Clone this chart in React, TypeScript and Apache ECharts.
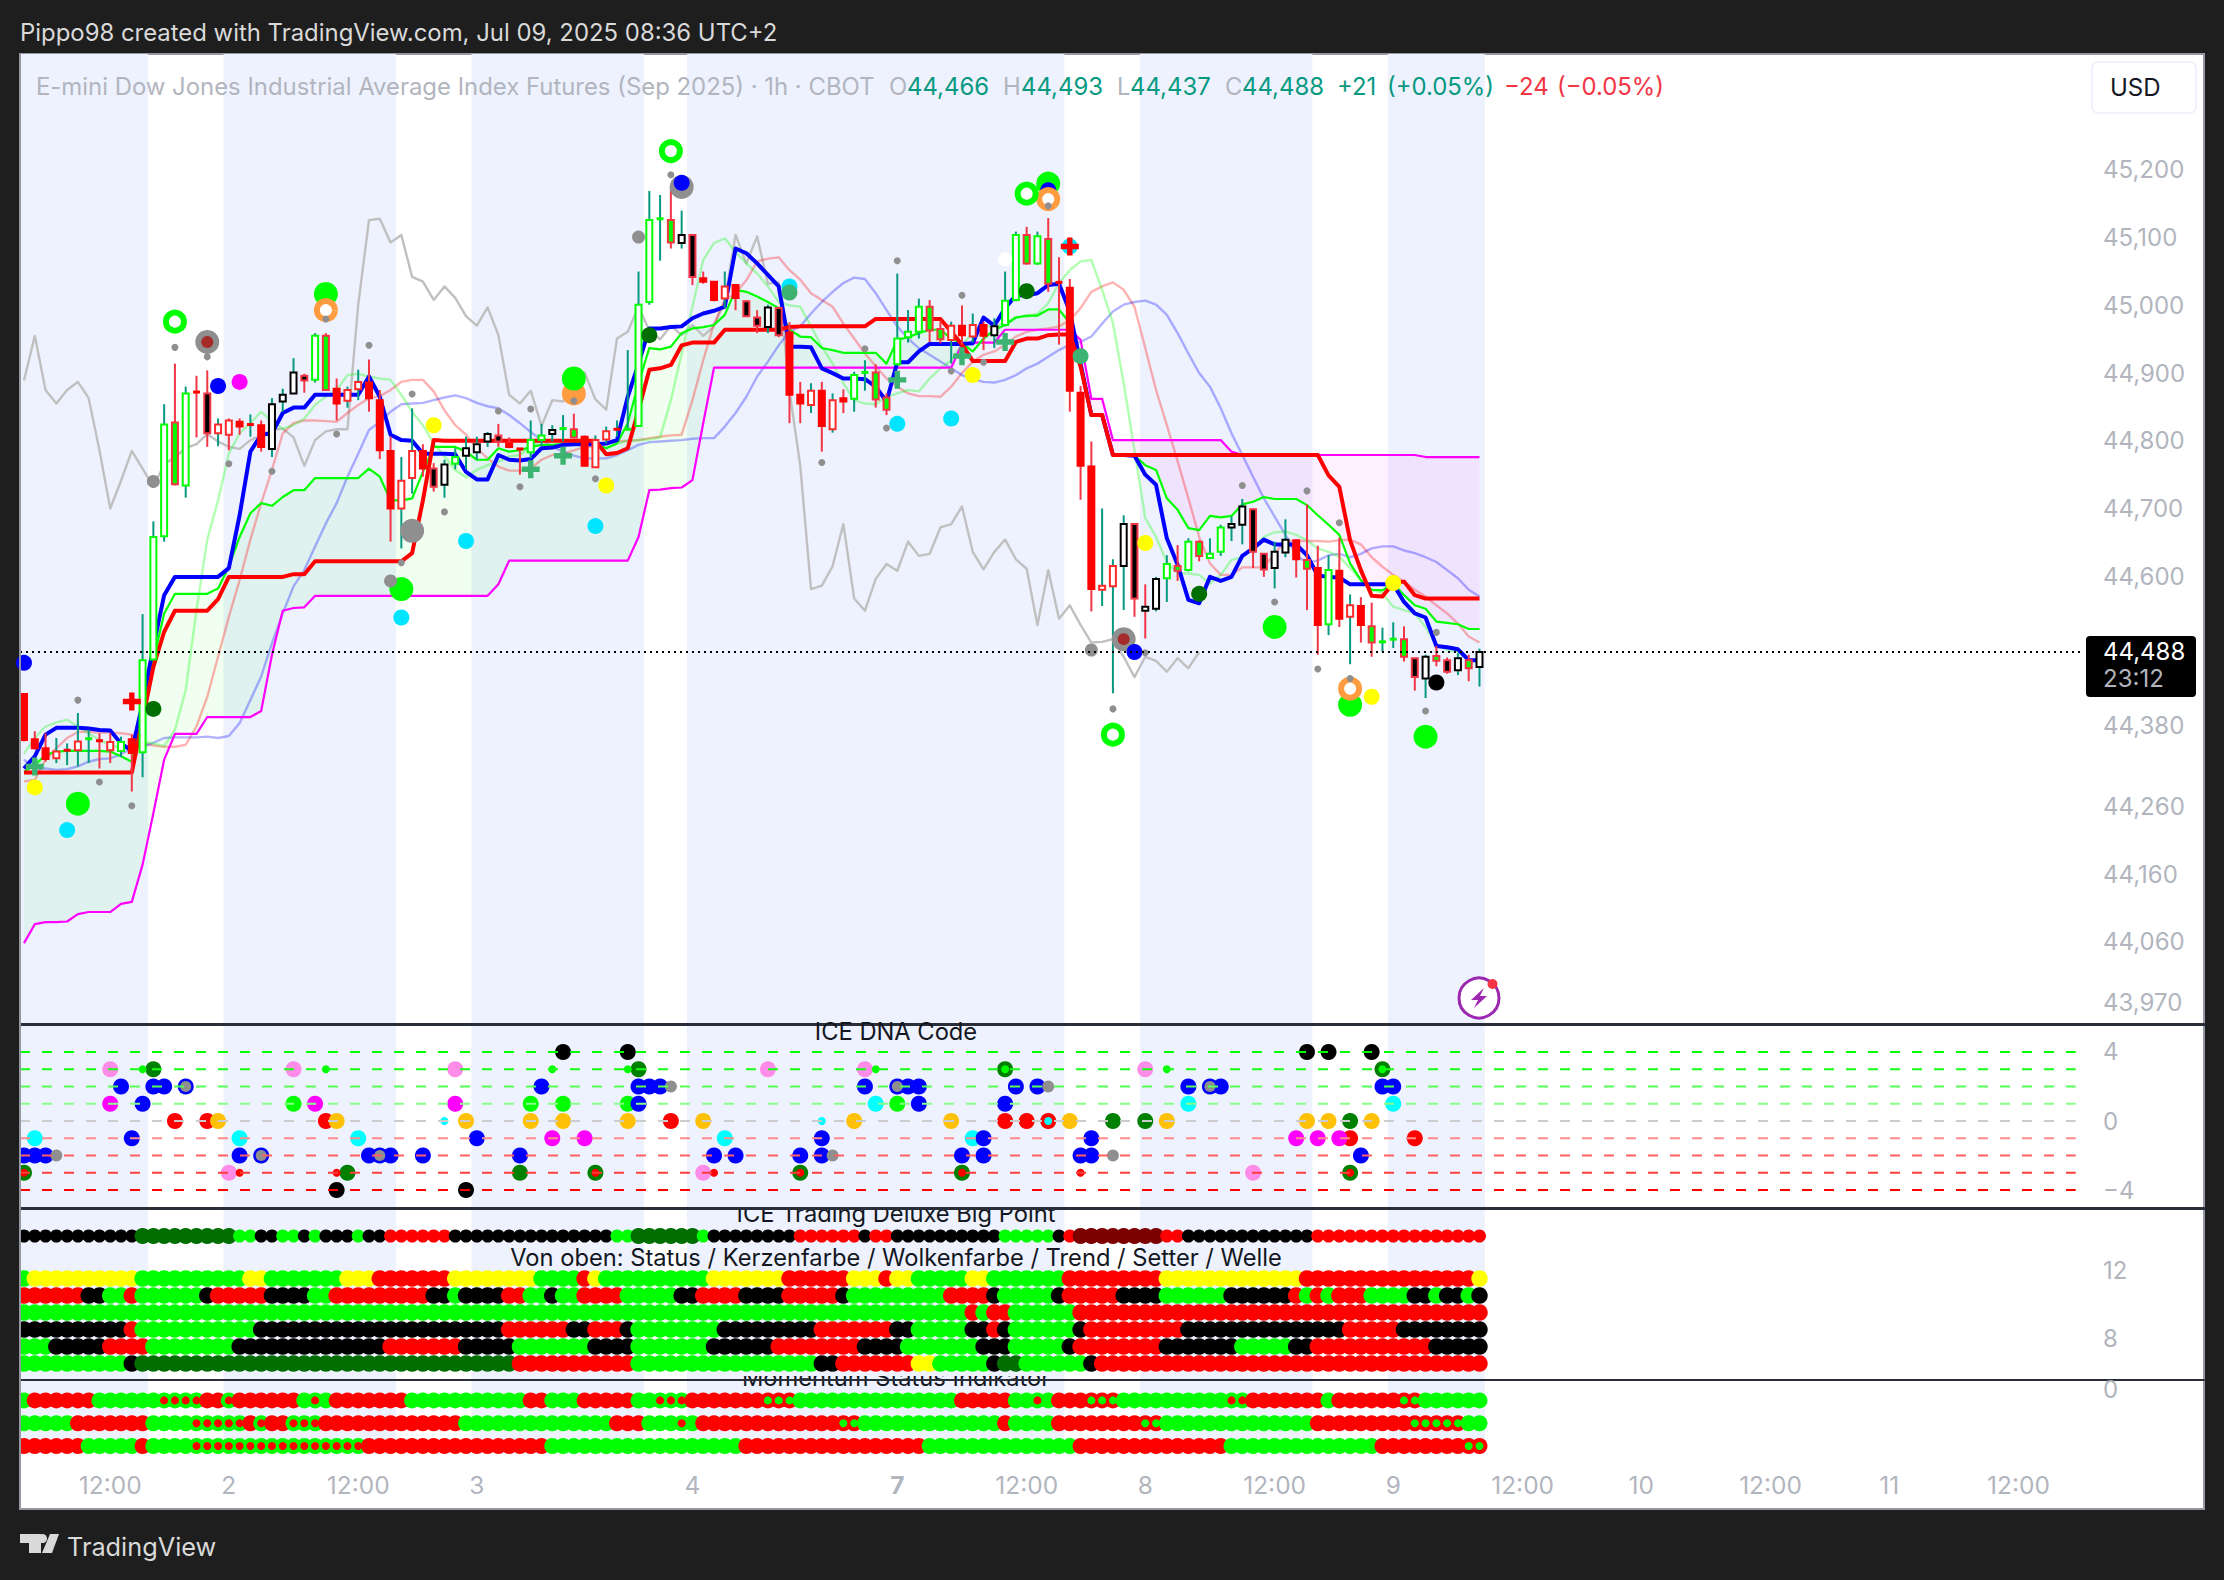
import React, { useEffect, useRef } from "react";
import * as echarts from "echarts";

const FONT = "Inter, Roboto, sans-serif";
const BG = "#1e1e1e";
const BAND = "#eef2fe";
const LABEL = "#b2b5be";

const bandRanges = [[-0.37, 11.5], [18.5, 34.5], [41.5, 57.5], [61.5, 96.5], [103.5, 119.5], [126.5, 135.5]];
const timeTicks = [8, 19, 31, 42, 62, 81, 93, 104, 116, 127, 139, 150, 162, 173, 185];
const timeLabels = ["12:00", "2", "12:00", "3", "4", "{b|7}", "12:00", "8", "12:00", "9", "12:00", "10", "12:00", "11", "12:00"];
const priceTicks = [45200, 45100, 45000, 44900, 44800, 44700, 44600, 44380, 44260, 44160, 44060, 43970];

// [body top, body bottom, high, low]
const candleRows = [
[44426,44358,44426,44356],[44359,44346,44371,44344],[44346,44330,44368,44326],[44341,44331,44361,44324],[44343,44343,44353,44321],
[44356,44343,44398,44319],[44360,44360,44373,44324],[44357,44357,44368,44316],[44355,44343,44368,44324],[44355,44342,44363,44333],
[44359,44339,44366,44282],[44476,44340,44544,44303],[44658,44477,44681,44477],[44824,44659,44854,44651],[44827,44736,44914,44734],
[44870,44734,44880,44716],[44872,44872,44896,44805],[44870,44811,44904,44791],[44824,44811,44833,44792],[44830,44809,44833,44786],
[44828,44821,44833,44809],[44824,44824,44839,44806],[44823,44791,44830,44784],[44854,44788,44863,44776],[44868,44858,44877,44843],
[44901,44870,44922,44869],[44896,44889,44899,44871],[44955,44890,44959,44886],[44955,44875,44959,44874],[44877,44855,44892,44830],
[44875,44859,44880,44849],[44887,44876,44905,44860],[44886,44863,44920,44843],[44860,44786,44875,44773],[44785,44700,44806,44651],
[44741,44700,44776,44641],[44785,44745,44848,44722],[44785,44759,44795,44747],[44759,44732,44767,44725],[44765,44735,44772,44716],
[44776,44766,44789,44758],[44789,44778,44806,44758],[44795,44783,44806,44772],[44810,44799,44813,44791],[44808,44799,44825,44791],
[44796,44791,44805,44789],[44788,44788,44788,44750],[44801,44783,44830,44774],[44808,44801,44825,44792],[44816,44810,44823,44799],
[44818,44818,44838,44799],[44817,44805,44840,44804],[44806,44763,44808,44762],[44801,44761,44808,44761],[44814,44802,44821,44796],
[44817,44817,44830,44806],[44817,44817,44934,44816],[45001,44822,45050,44822],[45126,45005,45169,45001],[45128,45128,45163,45066],
[45126,45093,45175,45084],[45104,45092,45140,45084],[45104,45042,45104,45030],[45040,45035,45050,45032],[45035,45008,45035,45006],
[45028,45010,45050,44996],[45030,45011,45030,44993],[45006,44984,45008,44983],[44982,44970,44993,44959],[44997,44968,45001,44959],
[44996,44956,44998,44953],[44960,44868,44975,44826],[44868,44855,44887,44826],[44874,44853,44885,44841],[44874,44822,44887,44784],
[44860,44817,44870,44812],[44863,44858,44876,44841],[44897,44862,44902,44843],[44901,44901,44919,44874],[44901,44861,44913,44849],
[44864,44846,44870,44838],[44951,44913,45047,44911],[44961,44953,44993,44945],[44998,44961,45010,44951],[44998,44963,45008,44946],
[44965,44950,44978,44944],[44970,44949,44976,44914],[44970,44956,45000,44942],[44971,44954,44988,44945],[44971,44955,44976,44934],
[44969,44956,44981,44937],[45007,44971,45050,44969],[45104,45008,45109,45006],[45104,45062,45116,45060],[45102,45062,45109,45060],
[45098,45032,45129,45020],[45034,45034,45071,44942],[45026,44874,45039,44843],[44871,44763,44881,44713],[44762,44581,44799,44548],
[44586,44580,44700,44556],[44615,44585,44625,44427],[44677,44615,44690,44550],[44677,44567,44678,44540],[44555,44549,44588,44508],
[44596,44552,44599,44548],[44618,44597,44631,44562],[44615,44608,44646,44593],[44651,44609,44656,44607],[44651,44630,44653,44622],
[44633,44627,44656,44626],[44672,44636,44676,44630],[44677,44672,44688,44652],[44703,44676,44714,44647],[44699,44636,44700,44612],
[44633,44610,44634,44599],[44636,44612,44651,44582],[44654,44635,44684,44628],[44653,44625,44654,44598],[44624,44611,44706,44550],
[44612,44528,44645,44484],[44609,44529,44631,44513],[44608,44537,44657,44525],[44557,44540,44573,44470],[44556,44528,44569,44502],
[44526,44502,44561,44481],[44503,44503,44524,44488],[44507,44507,44532,44494],[44507,44481,44526,44474],[44479,44451,44479,44431],
[44481,44449,44484,44420],[44482,44475,44497,44467],[44476,44459,44480,44456],[44479,44461,44486,44454],[44476,44464,44484,44445],
[44488,44466,44493,44437],
];
const bodyStyles = "RRRWRWGRWG" + "RGGGHGRBWW" + "RRRKKKBGHR" + "WWRRRWWRBK" + "GKKKBRRGGK" + "GHRWWRGGGG" + "HKBRRWRBBK" + "BRRWRWRGGH" + "HGGGHHWRWR" + "KGGHGHRRRR" + "WWKBKKGHGH" + "GGKKBBKKRH" + "RGRWRHGGHB" + "KHBKHK";
const wickStyles = "rrrttttrrt" + "rtttrtrrtr" + "rtrtttrtrr" + "ttrrrttrrt" + "ttttrrrttt" + "trrttttttt" + "rtrrrtrrrt" + "rrrtrtrttr" + "rtttrrtrtr" + "tttrtrrrrr" + "tttrrttrtr" + "ttttrrttrr" + "rtrtrrttrr" + "trrtrt";

const conversionLine = [
44316,44334,44366,44376,44376,44376,44375,44373,44372,44353,
44342,44412,44496,44572,44599,44599,44599,44599,44599,44612,
44690,44784,44809,44811,44841,44849,44849,44868,44868,44868,
44868,44868,44895,44865,44809,44801,44800,44781,44781,44781,
44780,44754,44743,44743,44779,44772,44771,44773,44789,44790,
44794,44795,44795,44795,44796,44801,44865,44914,44966,44966,
44968,44969,44981,44988,44992,44998,45084,45077,45062,45045,
45028,44939,44939,44938,44907,44900,44892,44892,44891,44880,
44858,44916,44916,44932,44943,44943,44943,44943,44944,44982,
44970,44996,45015,45015,45018,45030,45032,44991,44914,44838,
44838,44779,44779,44778,44750,44735,44656,44617,44565,44560,
44599,44593,44599,44630,44641,44654,44647,44647,44647,44631,
44601,44599,44598,44588,44588,44588,44588,44588,44562,44545,
44539,44497,44495,44492,44476,44476];
const baseLine = [
44310,44310,44310,44310,44310,44310,44310,44310,44310,44310,
44310,44388,44466,44518,44549,44549,44549,44549,44566,44599,
44599,44599,44599,44599,44599,44603,44603,44622,44622,44622,
44622,44622,44622,44622,44622,44622,44634,44712,44801,44800,
44800,44800,44800,44800,44800,44800,44800,44800,44800,44800,
44800,44800,44800,44800,44780,44782,44789,44845,44905,44907,
44912,44941,44945,44945,44945,44964,44964,44964,44964,44964,
44964,44968,44969,44969,44969,44969,44969,44969,44969,44980,
44980,44980,44980,44980,44980,44980,44961,44942,44918,44918,
44918,44918,44946,44951,44951,44956,44957,44957,44910,44838,
44838,44779,44779,44779,44779,44779,44779,44779,44779,44779,
44779,44779,44779,44779,44779,44779,44779,44779,44779,44779,
44779,44749,44732,44653,44609,44571,44570,44590,44592,44572,
44567,44567,44567,44567,44567,44567];
const leadA = [
44311,44321,44336,44341,44342,44342,44342,44342,44341,44334,
44326,44393,44476,44545,44574,44574,44574,44574,44582,44614,
44658,44693,44708,44704,44717,44727,44727,44745,44745,44745,
44745,44745,44759,44747,44712,44712,44715,44754,44791,44791,
44791,44784,44772,44772,44789,44784,44786,44791,44794,44794,
44795,44796,44797,44796,44789,44796,44826,44885,44937,44935,
44939,44959,44966,44968,44971,44986,45023,45020,45013,45005,
44996,44964,44954,44953,44937,44934,44930,44930,44930,44930,
44914,44949,44953,44959,44964,44964,44951,44944,44932,44951,
44964,44971,44982,44985,44985,44994,44994,44974,44914,44838,
44838,44779,44779,44778,44764,44757,44715,44698,44671,44668,
44689,44687,44689,44706,44710,44717,44714,44714,44714,44705,
44690,44676,44661,44619,44594,44580,44579,44590,44572,44557,
44552,44533,44531,44529,44522,44522];
const leadB = [
44058,44086,44089,44089,44090,44101,44104,44104,44104,44116,
44119,44174,44250,44329,44367,44367,44367,44392,44392,44392,
44392,44392,44401,44484,44549,44553,44554,44571,44571,44571,
44571,44571,44571,44571,44571,44571,44571,44571,44571,44571,
44571,44571,44571,44571,44588,44623,44623,44623,44623,44623,
44623,44623,44623,44623,44623,44623,44623,44658,44727,44728,
44730,44731,44742,44826,44908,44908,44908,44908,44908,44908,
44908,44908,44908,44908,44908,44908,44908,44908,44908,44908,
44908,44908,44908,44908,44908,44908,44908,44943,44945,44945,
44945,44964,44964,44964,44964,44964,44964,44964,44949,44862,
44862,44801,44801,44801,44801,44801,44801,44801,44801,44801,
44801,44801,44784,44779,44779,44779,44779,44779,44779,44779,
44779,44779,44779,44779,44779,44779,44779,44779,44779,44779,
44776,44776,44776,44776,44776,44776];
const paleGreen = [
44338,44361,44378,44384,44388,44378,44368,44358,44351,44346,
44350,44356,44353,44349,44373,44432,44550,44654,44712,44781,
44811,44826,44843,44828,44818,44823,44833,44853,44865,44875,
44897,44899,44895,44892,44890,44868,44843,44823,44796,44777,
44757,44746,44757,44764,44769,44777,44779,44791,44801,44799,
44799,44799,44799,44794,44789,44796,44800,44801,44802,44805,
44860,44929,44998,45067,45092,45099,45079,45062,45047,45028,
45005,45000,44998,44969,44939,44914,44885,44860,44855,44854,
44865,44870,44875,44873,44892,44907,44919,44942,44959,44969,
44969,44974,44983,44983,44988,45003,45033,45052,45065,45067,
45023,44974,44885,44786,44686,44658,44621,44604,44604,44602,
44589,44602,44624,44628,44641,44658,44665,44666,44661,44653,
44641,44636,44629,44612,44594,44580,44575,44555,44550,44545,
44525,44498,44491,44488,44476,44476];
const paleRed = [
44297,44299,44329,44346,44361,44370,44370,44369,44369,44368,
44366,44353,44350,44348,44348,44351,44378,44422,44481,44540,
44594,44654,44708,44757,44811,44826,44830,44830,44829,44828,
44841,44853,44863,44866,44875,44887,44890,44890,44873,44845,
44823,44809,44789,44774,44762,44756,44756,44759,44772,44779,
44781,44786,44791,44791,44796,44799,44800,44801,44804,44806,
44808,44809,44860,44919,44973,45008,45018,45037,45065,45069,
45071,45052,45038,45018,45008,44998,44973,44951,44929,44910,
44892,44880,44870,44866,44866,44865,44880,44900,44917,44927,
44932,44942,44954,44961,44964,44966,44969,44978,44996,45020,
45028,45034,45023,44998,44937,44875,44823,44770,44715,44658,
44619,44602,44602,44613,44613,44613,44634,44651,44652,44652,
44652,44651,44653,44654,44647,44628,44614,44602,44592,44580,
44570,44557,44545,44530,44511,44502];
const paleBlue = [
44329,44316,44316,44314,44315,44319,44326,44330,44331,44337,
44346,44348,44354,44361,44362,44362,44362,44363,44361,44364,
44383,44417,44452,44501,44545,44585,44609,44644,44678,44708,
44747,44781,44816,44828,44843,44854,44855,44856,44860,44864,
44867,44863,44856,44851,44848,44838,44826,44813,44801,44791,
44784,44778,44774,44774,44774,44779,44786,44794,44798,44799,
44800,44801,44803,44804,44804,44821,44841,44865,44895,44917,
44941,44961,44969,44988,45005,45020,45033,45041,45039,45018,
44993,44969,44951,44937,44927,44917,44907,44897,44891,44887,
44886,44890,44897,44907,44914,44924,44934,44942,44946,44954,
44973,44991,45001,45005,45007,45001,44986,44959,44929,44900,
44880,44848,44811,44779,44747,44715,44688,44661,44631,44620,
44623,44631,44633,44628,44633,44641,44644,44644,44638,44634,
44628,44621,44609,44597,44580,44570];
const laggingLine = [
44889,44955,44875,44855,44875,44887,44863,44786,44700,44741,
44785,44759,44732,44765,44776,44789,44795,44810,44799,44791,
44788,44801,44808,44816,44818,44805,44763,44801,44814,44817,
44817,45001,45126,45128,45093,45104,45042,45035,45008,45028,
45011,44984,44970,44997,44956,44868,44855,44874,44822,44860,
44858,44897,44901,44861,44846,44951,44961,44998,44963,44950,
44970,44956,44971,44955,44969,45007,45104,45062,45102,45032,
45034,44874,44763,44581,44586,44615,44677,44567,44549,44596,
44618,44608,44651,44630,44633,44672,44677,44703,44636,44610,
44636,44654,44625,44611,44528,44609,44537,44557,44528,44502,
44503,44507,44481,44451,44481,44475,44459,44479,44464,44488];

const bigGreen = [[28,45017],[51,44892],[5,44264],[35,44581],[95,45180],[116,44525],[123,44410],[130,44363]];
const greenRings = [[14,44976],[60,45228],[93,45165],[101,44366]];
const orangeRings = [[28,44993],[95,45157],[123,44434]];
const orangeDiscs = [[51,44870]];
const blueDots = [[18,44881],[61,45181],[0,44472],[95,45170],[103,44488]];
const magentaDots = [[20,44887]];
const greyLarge = [[17,44946],[61,45175],[36,44667],[102,44507]];
const greyMedium = [[12,44740],[57,45101],[34,44593],[99,44491]];
const maroonDots = [[17,44946],[102,44507]];
const greySmall = [[14,44938],[17,44924],[28,44980],[32,44941],[36,44869],[29,44810],[19,44766],[23,44755],[39,44695],[44,44844],[47,44847],[51,44859],[53,44744],[46,44732],[60,45193],[5,44417],[7,44296],[10,44261],[35,44620],[81,45066],[78,44936],[74,44768],[80,44819],[87,45015],[86,44903],[89,44916],[95,45147],[113,44734],[119,44726],[122,44679],[116,44562],[104,44487],[120,44463],[123,44449],[101,44404],[130,44401],[131,44517]];
const cyanDots = [[4,44225],[35,44539],[41,44652],[53,44674],[81,44825],[86,44833],[97,45087],[71,45028]];
const yellowDots = [[1,44288],[38,44823],[54,44734],[88,44897],[104,44649],[125,44422],[127,44590]];
const darkGreenDots = [[12,44404],[58,44956],[93,45021],[109,44574]];
const seaGreenDots = [[71,45019],[98,44925]];
const seaGreenPlus = [[1,44319],[47,44758],[50,44778],[81,44890],[87,44925],[91,44946]];
const redPlus = [[10,44415],[97,45087]];
const blackDots = [[131,44443]];
const whiteDots = [[91,45068]];

const dnaLevels = [4, 3, 2, 1, 0, -1, -2, -3, -4];
const dnaLevelColors = ["#00ff00", "#16ff16", "#55ff55", "#88ff88", "#cccccc", "#ff8c8c", "#ff6060", "#ff3c3c", "#ff0000"];
const dnaBlack = [[50,4],[56,4],[119,4],[121,4],[125,4],[29,-4],[41,-4]];
const dnaPink = [[8,3],[25,3],[40,3],[69,3],[78,3],[104,3],[19,-3],[63,-3],[114,-3]];
const dnaDark = [[12,3],[57,3],[91,3],[126,3],[0,-3],[30,-3],[46,-3],[53,-3],[72,-3],[87,-3],[123,-3],[101,0],[104,0],[123,0]];
const dnaBlue = [[9,2],[12,2],[13,2],[15,2],[48,2],[57,2],[58,2],[59,2],[78,2],[81,2],[82,2],[83,2],[92,2],[94,2],[108,2],[110,2],[111,2],[126,2],[127,2],[11,1],[57,1],[83,1],[91,1],[10,-1],[42,-1],[74,-1],[89,-1],[99,-1],[0,-2],[1,-2],[2,-2],[20,-2],[22,-2],[32,-2],[33,-2],[34,-2],[37,-2],[46,-2],[64,-2],[66,-2],[72,-2],[74,-2],[87,-2],[89,-2],[98,-2],[99,-2],[124,-2]];
const dnaGrey = [[60,2],[95,2],[3,-2],[75,-2],[101,-2]];
const dnaGreyInner = [[15,2],[81,2],[110,2],[22,-2],[33,-2]];
const dnaMagenta = [[8,1],[27,1],[40,1],[49,-1],[52,-1],[118,-1],[120,-1],[122,-1]];
const dnaGreen = [[25,1],[47,1],[50,1],[56,1],[81,1]];
const dnaSmallGreen = [[11,3],[28,3],[49,3],[56,3],[79,3],[106,3],[91,3],[126,3]];
const dnaRed = [[14,0],[17,0],[28,0],[60,0],[91,0],[93,0],[95,0],[123,-1],[129,-1]];
const dnaSmallRed = [[0,-3],[20,-3],[29,-3],[53,-3],[64,-3],[72,-3],[87,-3],[98,-3],[123,-3]];
const dnaAmber = [[18,0],[29,0],[41,0],[47,0],[50,0],[56,0],[63,0],[77,0],[86,0],[97,0],[106,0],[119,0],[121,0],[125,0]];
const dnaCyan = [[1,-1],[20,-1],[31,-1],[65,-1],[88,-1],[79,1],[108,1],[127,1]];
const dnaSmallCyan = [[39,0],[74,0],[95,0]];

const bigPointRuns = "k11 d9 g2 k2 g2 k1 g1 k3 g1 k2 r6 k15 g2 d6 g1 k8 r6 k1 r2 k10 g5 k1 r1 m8 r2 k12 r16";
const statusRuns = "g1 y10 g10 y2 g7 y3 r7 y8 g4 r1 y1 g10 y7 r6 y3 r1 y2 g5 y2 g7 r9 y13 r16 y1";
const candleColorRuns = "r6 k2 g2 r1 g6 k1 r5 k4 g2 r9 k2 g1 k4 r2 g2 k1 g2 r4 g5 k2 r4 k4 r5 k1 g9 r4 k1 g5 k1 r5 k4 g6 k6 r1 g1 r1 g1 r3 g4 k2 g1 k2 g1 k1";
const cloudColorRuns = "g88 r1 g1 r2 g6 r38";
const trendRuns = "k10 r1 g11 k23 r6 k2 r3 k1 g8 k9 r7 k2 g5 k2 r1 k1 g6 k1 r9 k15 r5 k8";
const setterRuns = "g3 k5 r4 g8 k14 r7 k5 g7 k4 g7 k6 r8 k4 g7 k3 g5 k1 r8 k7 g5 k2 r11 k5";
const waveRuns = "g10 k1 d35 r11 g17 k2 r7 y2 g5 k1 d2 g6 k1 r36";
const momentumA = "g1 r6 g6 s4 r2 s1 r6 g1 s1 g1 r7 g11 r2 g3 r5 g2 s3 r7 t3 g15 r5 g2 s1 g1 r3 t3 g10 s2 r7 g1 r6 t2 g6";
const momentumB = "g5 r7 g4 s5 r1 s1 r2 s3 r13 g14 r3 g3 s1 g1 r13 t2 g13 r1 g4 r8 t2 g14 r9 t5 g2";
const momentumC = "r6 g5 r1 g4 s16 r17 g18 r17 g14 r14 g14 r8 t2";

const statusRows = [[statusRuns, 11.5], [candleColorRuns, 10.5], [cloudColorRuns, 9.5], [trendRuns, 8.5], [setterRuns, 7.5], [waveRuns, 6.5]];
const momentumRows = [[momentumA, -0.5], [momentumB, -1.5], [momentumC, -2.5]];
const codeColors = { g: "#00ff00", r: "#ff0000", k: "#000000", y: "#ffff00", d: "#006e00", m: "#7d0000", s: "#00ff00", t: "#ff0000" };

const expandRuns = (runs) => {
  const out = [];
  runs.split(" ").forEach((r) => { const n = +r.slice(1); for (let k = 0; k < n; k++) out.push(r[0]); });
  return out;
};

const X_MIN = -0.37, X_MAX = 202.2;
const paneFrames = [
  { top: 54, height: 970, min: 43938.6, max: 45371.3 },
  { top: 1024, height: 184, min: -5.04, max: 5.62 },
  { top: 1208, height: 172, min: 5.53, max: 15.647 },
  { top: 1380, height: 74, min: -2.85, max: 0.395 },
];
const paneBorder = [3, 3, 2, 0];
const PLUS = "path://M35 0H65V35H100V65H65V100H35V65H0V35H35Z";

const zipLine = (arr) => arr.map((v, i) => [i, v]);

function App() {
  const ref = useRef(null);
  useEffect(() => {
    const chart = echarts.init(ref.current, null, { renderer: "svg", width: 2224, height: 1580 });

    const bandSeries = (g) => ({
      type: "custom", xAxisIndex: g, yAxisIndex: g, z: 0, silent: true, clip: true, data: bandRanges,
      encode: { x: [0, 1] },
      renderItem: (params, api) => {
        const a = api.coord([api.value(0), paneFrames[g].min])[0];
        const b = api.coord([api.value(1), paneFrames[g].min])[0];
        const c = params.coordSys;
        return { type: "rect", shape: { x: a, y: c.y, width: b - a, height: c.height }, style: { fill: BAND } };
      },
    });

    const line = (data, color, width, opacity = 1, extra = {}) => ({
      type: "line", xAxisIndex: 0, yAxisIndex: 0, z: 1, data, showSymbol: false, symbol: "none", silent: true,
      lineStyle: { color, width, opacity, join: "round" }, ...extra,
    });

    const dots = (data, color, size, g = 0, extra = {}) => ({
      type: "scatter", xAxisIndex: g, yAxisIndex: g, data, symbolSize: size, silent: true, clip: true,
      itemStyle: { color, opacity: 1 }, ...extra,
    });

    const ring = (data, color) => dots(data, "#ffffff", 18, 0, { itemStyle: { color: "#ffffff", borderColor: color, borderWidth: 6, opacity: 1 } });

    const cloudRuns = [];
    let start = 0;
    for (let i = 1; i <= leadA.length; i++) {
      if (i === leadA.length || (leadA[i] >= leadB[i]) !== (leadA[start] >= leadB[start])) {
        cloudRuns.push([start, Math.min(i, leadA.length - 1)]);
        start = i;
      }
    }
    const cloud = {
      type: "custom", xAxisIndex: 0, yAxisIndex: 0, z: 0.5, silent: true, clip: true, data: cloudRuns, encode: { x: [0, 1] },
      renderItem: (_p, api) => {
        const a = api.value(0), b = api.value(1);
        const pts = [];
        for (let i = a; i <= b; i++) pts.push(api.coord([i, leadA[i]]));
        for (let i = b; i >= a; i--) pts.push(api.coord([i, leadB[i]]));
        const up = leadA[a] >= leadB[a];
        return { type: "polygon", shape: { points: pts }, style: { fill: up ? "rgba(0,255,0,0.06)" : "rgba(255,0,255,0.06)" } };
      },
    };

    const bodyLook = {
      R: ["#ff0000", "#ff0000"], W: ["#ffffff", "#ff2a2a"], G: ["#ffffff", "#00ff00"],
      K: ["#ffffff", "#000000"], B: ["#000000", "#f23645"], H: ["#00ff00", "#f23645"],
    };
    const candles = {
      type: "custom", xAxisIndex: 0, yAxisIndex: 0, silent: true, clip: true,
      data: candleRows.map((r, i) => [i, ...r]), encode: { x: 0, y: [1, 2, 3, 4] },
      renderItem: (_p, api) => {
        const i = api.value(0);
        const top = api.coord([i, api.value(1)]);
        const bot = api.coord([i, api.value(2)]);
        const hi = api.coord([i, api.value(3)]);
        const lo = api.coord([i, api.value(4)]);
        const [fill, stroke] = bodyLook[bodyStyles[i]];
        const wick = wickStyles[i] === "t" ? "#089981" : "#f23645";
        const flat = Math.abs(bot[1] - top[1]) < 3;
        return {
          type: "group",
          children: [
            { type: "line", shape: { x1: hi[0], y1: hi[1], x2: lo[0], y2: lo[1] }, style: { stroke: wick, lineWidth: 2 } },
            flat
              ? { type: "rect", shape: { x: top[0] - 3.5, y: top[1] - 1.5, width: 7, height: 3 }, style: { fill: stroke } }
              : { type: "rect", shape: { x: top[0] - 3, y: top[1], width: 6, height: bot[1] - top[1] }, style: { fill, stroke, lineWidth: 2 } },
          ],
        };
      },
    };

    const codedDots = (runs, y, size) =>
      expandRuns(runs).map((c, i) => ({ value: [i, y], itemStyle: { color: codeColors[c], opacity: 1 }, symbolSize: size }));

    const smallDots = (runs, y, code) =>
      expandRuns(runs).map((c, i) => (c === code ? [i, y] : null)).filter(Boolean);

    const bigPoint = expandRuns(bigPointRuns).map((c, i) => ({
      value: [i, 14], itemStyle: { color: codeColors[c], opacity: 1 }, symbolSize: c === "d" || c === "m" ? 16 : 13,
    }));

    const series = [
      bandSeries(0), bandSeries(1), bandSeries(2), bandSeries(3),
      cloud,
      line(zipLine(laggingLine), "#c0c0c0", 2.4),
      line(zipLine(paleRed), "#ff0000", 2.4, 0.3),
      line(zipLine(paleBlue), "#0000ff", 2.4, 0.3),
      line(zipLine(paleGreen), "#00ff00", 2.4, 0.3),
      line(zipLine(leadB), "#ff00ff", 2.2),
      line(zipLine(leadA), "#00ff00", 2.2),
      line(zipLine(conversionLine), "#0000ff", 4),
      line(zipLine(baseLine), "#ff0000", 4),
      candles,
      dots(orangeDiscs, "#ff9c40", 24),
      dots(bigGreen, "#00ff00", 24),
      dots(greyLarge, "#8f8f8f", 24),
      dots(blueDots, "#0000ff", 16),
      ring(orangeRings, "#ff9c40"),
      ring(greenRings, "#00ff00"),
      dots(magentaDots, "#ff00ff", 16),
      dots(greyMedium, "#8f8f8f", 13),
      dots(maroonDots, "#a52a2a", 12),
      dots(cyanDots, "#00e5ff", 16),
      dots(yellowDots, "#ffff00", 16),
      dots(whiteDots, "#ffffff", 14),
      dots(darkGreenDots, "#006e00", 16),
      dots(seaGreenDots, "#3cb371", 16),
      dots(blackDots, "#000000", 16),
      dots(seaGreenPlus, "#3cb371", 18, 0, { symbol: PLUS }),
      dots(redPlus, "#ff0000", 18, 0, { symbol: PLUS }),
      dots(greySmall, "#8f8f8f", 7),
      line([[X_MIN, 44488], [190.7, 44488]], "#000000", 2, 1, { z: 3, lineStyle: { color: "#000000", width: 2, type: [2, 4] } }),

      dots(dnaBlack, "#000000", 16, 1),
      dots(dnaPink, "#ff8ce8", 16, 1),
      dots(dnaRed, "#ff0000", 16, 1),
      dots(dnaAmber, "#ffc107", 16, 1),
      dots(dnaDark, "#008000", 16, 1),
      dots(dnaMagenta, "#ff00ff", 16, 1),
      dots(dnaGreen, "#00ff00", 16, 1),
      dots(dnaCyan, "#00ffff", 16, 1),
      dots(dnaBlue, "#0000ff", 16, 1),
      dots(dnaGrey, "#8f8f8f", 12, 1),
      dots(dnaGreyInner, "#8f8f8f", 11, 1),
      dots(dnaSmallGreen, "#00ff00", 8, 1),
      dots(dnaSmallRed, "#ff0000", 8, 1),
      dots(dnaSmallCyan, "#00ffff", 8, 1),
      ...dnaLevels.map((lv, k) => ({
        type: "line", xAxisIndex: 1, yAxisIndex: 1, z: 3, data: [[X_MIN, lv], [190.3, lv]], symbol: "none", silent: true,
        lineStyle: { color: dnaLevelColors[k], width: 2, type: [10, 12] },
      })),

      { type: "scatter", xAxisIndex: 2, yAxisIndex: 2, data: bigPoint, silent: true, clip: true },
      ...statusRows.map(([runs, y]) => ({
        type: "scatter", xAxisIndex: 2, yAxisIndex: 2, data: codedDots(runs, y, 16.5), silent: true, clip: true,
      })),
      ...momentumRows.map(([runs, y]) => ({
        type: "scatter", xAxisIndex: 3, yAxisIndex: 3, data: codedDots(runs, y, 16), silent: true, clip: true,
      })),
      ...momentumRows.map(([runs, y]) => dots(smallDots(runs, y, "s"), "#ff0000", 8, 3)),
      ...momentumRows.map(([runs, y]) => dots(smallDots(runs, y, "t"), "#00ff00", 8, 3)),
    ];

    const grid = paneFrames.map((p) => ({ left: 20, right: 20, top: p.top, height: p.height, containLabel: false, outerBoundsMode: "none" }));
    const xAxis = paneFrames.map((_p, g) => ({
      type: "value", gridIndex: g, min: X_MIN, max: X_MAX, z: 4, silent: true,
      splitLine: { show: false }, axisTick: { show: false },
      axisLine: g < 3 ? { show: true, onZero: false, lineStyle: { color: "#2a2e39", width: paneBorder[g] } } : { show: false },
      axisLabel: g === 3
        ? {
            show: true, customValues: timeTicks, margin: 18, color: LABEL, fontSize: 24.5, fontFamily: FONT,
            formatter: (v) => timeLabels[timeTicks.indexOf(v)],
            rich: { b: { fontWeight: "bold", color: LABEL, fontSize: 24.5, fontFamily: FONT } },
          }
        : { show: false },
    }));
    const yLabel = (values, fmt) => ({
      show: true, inside: true, customValues: values, margin: 101, color: LABEL, fontSize: 24, fontFamily: FONT, formatter: fmt, align: "left",
    });
    const yAxis = paneFrames.map((p, g) => ({
      type: "value", gridIndex: g, position: "right", min: p.min, max: p.max, z: 4, silent: true,
      splitLine: { show: false }, axisTick: { show: false }, axisLine: { show: false },
      axisLabel:
        g === 0 ? yLabel(priceTicks, (v) => v.toLocaleString("en-US"))
        : g === 1 ? yLabel([4, 0, -4], (v) => String(v).replace("-", "\u2212"))
        : g === 2 ? yLabel([12, 8], (v) => String(v))
        : yLabel([0], (v) => String(v)),
    }));

    const txt = (text, x, y, fill, size = 23.9, extra = {}) => ({
      type: "text", z: 60, x, y, silent: true,
      style: { text, fill, fontSize: size, fontFamily: FONT, verticalAlign: "middle", ...extra },
    });
    const center = { align: "center" };
    const TITLE = 23.7;

    const graphic = [
      { type: "rect", z: -1, silent: true, shape: { x: 20, y: 54, width: 2184, height: 1455 }, style: { fill: "#ffffff", stroke: "#9598a1", lineWidth: 2 } },
      { type: "rect", z: 30, silent: true, shape: { x: 0, y: 1024, width: 19, height: 430 }, style: { fill: BG } },
      { type: "line", z: 31, silent: true, shape: { x1: 20, y1: 54, x2: 20, y2: 1509 }, style: { stroke: "#9598a1", lineWidth: 2 } },

      txt("Pippo98 created with TradingView.com, Jul 09, 2025 08:36 UTC+2", 20, 32, "#d9d9d9", 23.9),
      txt("E-mini Dow Jones Industrial Average Index Futures (Sep 2025) \u00b7 1h \u00b7 CBOT", 36, 86, LABEL),
      txt("O", 889, 86, LABEL), txt("44,466", 907, 86, "#089981"),
      txt("H", 1003, 86, LABEL), txt("44,493", 1021, 86, "#089981"),
      txt("L", 1117, 86, LABEL), txt("44,437", 1130, 86, "#089981"),
      txt("C", 1225, 86, LABEL), txt("44,488", 1242, 86, "#089981"),
      txt("+21", 1337, 86, "#089981"), txt("(+0.05%)", 1387, 86, "#089981"),
      txt("\u221224", 1504, 86, "#f23645"), txt("(\u22120.05%)", 1557, 86, "#f23645"),

      { type: "rect", z: 50, silent: true, shape: { x: 2092, y: 62, width: 104, height: 51, r: 6 }, style: { fill: "#ffffff", stroke: "#f0f3fa", lineWidth: 2 } },
      txt("USD", 2110, 87, "#131722", 24),

      { type: "rect", z: 50, silent: true, shape: { x: 2086, y: 636, width: 110, height: 61, r: 4 }, style: { fill: "#000000" } },
      txt("44,488", 2103, 651, "#ffffff", 24),
      txt("23:12", 2103, 678, "#b2b5be", 24),

      txt("ICE DNA Code", 896, 1031, "#131722", TITLE, center),
      { ...txt("ICE Trading Deluxe Big Point", 896, 1213, "#131722", TITLE, center), z: 1 },
      { type: "rect", z: 1.5, silent: true, shape: { x: 730, y: 1196, width: 330, height: 11 }, style: { fill: BAND } },
      { ...txt("Von oben: Status / Kerzenfarbe / Wolkenfarbe / Trend / Setter / Welle", 896, 1257, "#131722", TITLE, center), z: 1 },
      { ...txt("Momentum Status Indikator", 896, 1377, "#131722", TITLE, center), z: 1 },
      { type: "rect", z: 1.5, silent: true, shape: { x: 730, y: 1364, width: 330, height: 12 }, style: { fill: BAND } },

      { type: "circle", z: 55, silent: true, shape: { cx: 1479, cy: 998, r: 20 }, style: { fill: "#ffffff", stroke: "#9c27b0", lineWidth: 3 } },
      { type: "polygon", z: 56, silent: true, shape: { points: [[1484, 988], [1471, 1000], [1478, 1000], [1474, 1008], [1487, 996], [1480, 996]] }, style: { fill: "#9c27b0" } },
      { type: "circle", z: 57, silent: true, shape: { cx: 1492.5, cy: 984, r: 5 }, style: { fill: "#f23645" } },

      { type: "polygon", z: 60, silent: true, shape: { points: [[20, 1534], [41, 1534], [41, 1553], [29, 1553], [29, 1543], [20, 1543]] }, style: { fill: "#d9d9d9" } },
      { type: "circle", z: 60, silent: true, shape: { cx: 42.5, cy: 1538.5, r: 4.5 }, style: { fill: "#d9d9d9" } },
      { type: "polygon", z: 60, silent: true, shape: { points: [[50, 1534], [59, 1534], [52, 1553], [42, 1553]] }, style: { fill: "#d9d9d9" } },
      txt("TradingView", 67, 1546, "#d9d9d9", 25.3),
    ];

    chart.setOption({ animation: false, backgroundColor: BG, grid, xAxis, yAxis, series, graphic });
    return () => chart.dispose();
  }, []);
  return <div ref={ref} style={{ position: "fixed", left: 0, top: 0, width: 2224, height: 1580 }} />;
}

export default App;
